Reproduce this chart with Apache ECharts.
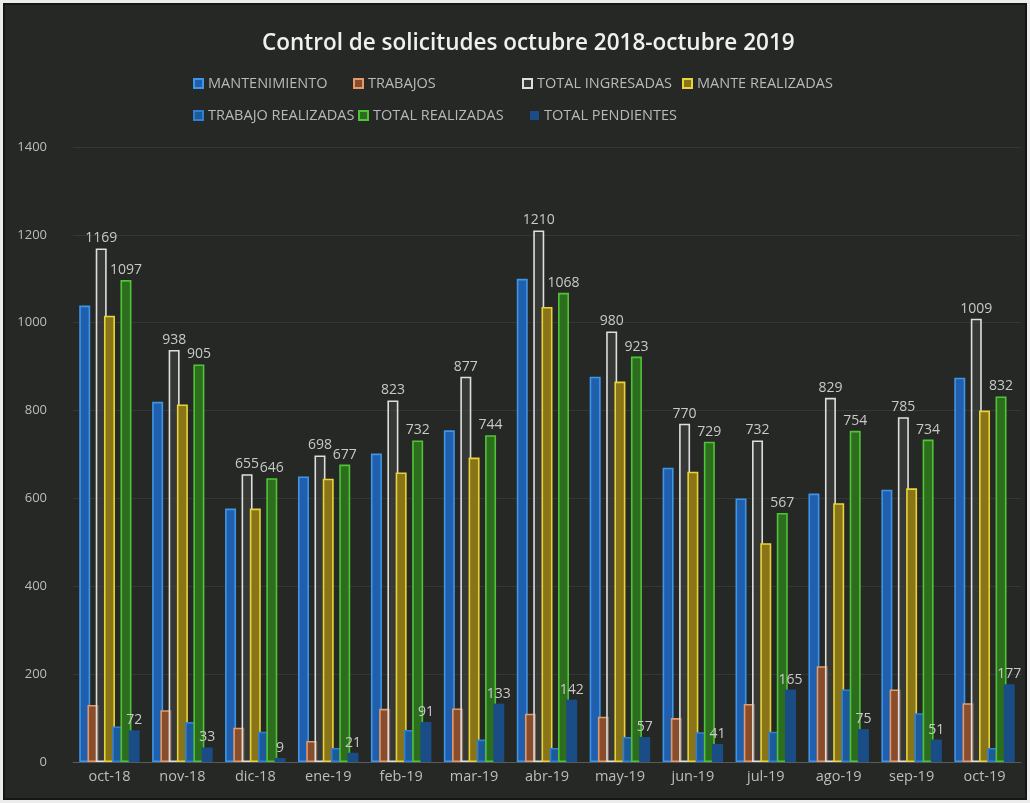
<!DOCTYPE html>
<html>
<head>
<meta charset="utf-8">
<script src="https://cdn.jsdelivr.net/npm/echarts@6/dist/echarts.min.js"></script>
<style>
html,body{margin:0;padding:0;background:#fff;}
#c{width:1030px;height:803px;}
</style>
</head>
<body>
<div id="c"></div>
<script>
const categories = ['oct-18','nov-18','dic-18','ene-19','feb-19','mar-19','abr-19','may-19','jun-19','jul-19','ago-19','sep-19','oct-19'];
const mantenimiento     = [1039, 820, 577, 650, 702, 755, 1100, 877, 670, 600, 611, 620, 875];
const trabajos          = [130, 118, 78, 48, 121, 122, 110, 103, 100, 132, 218, 165, 134];
const totalIngresadas   = [1169, 938, 655, 698, 823, 877, 1210, 980, 770, 732, 829, 785, 1009];
const manteRealizadas   = [1016, 814, 577, 645, 659, 693, 1036, 866, 661, 498, 589, 623, 800];
const trabajoRealizadas = [81, 91, 69, 32, 73, 51, 32, 57, 68, 69, 165, 111, 32];
const totalRealizadas   = [1097, 905, 646, 677, 732, 744, 1068, 923, 729, 567, 754, 734, 832];
const totalPendientes   = [72, 33, 9, 21, 91, 133, 142, 57, 41, 165, 75, 51, 177];
const yTicks = {min: 0, max: 1400, interval: 200};

const FONT = "'Open Sans', 'Liberation Sans', Arial, sans-serif";
const lbl = {show: true, position: 'top', color: '#c9c9c9', fontSize: 14, fontFamily: FONT, distance: 3};

function bar(name, data, fill, border, showLabel) {
  return {
    name: name, type: 'bar', data: data, barWidth: 11, barGap: '-25%',
    itemStyle: {color: fill, borderColor: border, borderWidth: border ? 1.6 : 0},
    label: showLabel ? lbl : {show: false}
  };
}

const series = [
  bar('MANTENIMIENTO', mantenimiento, '#1f5fae', '#3f95e8', false),
  bar('TRABAJOS', trabajos, '#8a4d2c', '#e39a6a', false),
  bar('TOTAL INGRESADAS', totalIngresadas, 'rgba(70,70,70,0.55)', '#dedede', true),
  bar('MANTE REALIZADAS', manteRealizadas, '#8a7418', '#e8d43a', false),
  bar('TRABAJO REALIZADAS', trabajoRealizadas, '#1c5a9c', '#2f80d2', false),
  bar('TOTAL REALIZADAS', totalRealizadas, '#2d6e1e', '#50c437', true),
  bar('TOTAL PENDIENTES', totalPendientes, '#1a4c86', null, true)
];

const legendPos = [
  ['MANTENIMIENTO', 193, 76],
  ['TRABAJOS', 353, 76],
  ['TOTAL INGRESADAS', 522, 76],
  ['MANTE REALIZADAS', 682, 76],
  ['TRABAJO REALIZADAS', 193, 108],
  ['TOTAL REALIZADAS', 358, 108],
  ['TOTAL PENDIENTES', 530, 108]
];
const legends = legendPos.map(p => ({
  data: [p[0]], left: p[1], top: p[2], padding: 0, itemWidth: 9, itemHeight: 9, itemGap: 4,
  icon: 'rect', textStyle: {color: '#b9b9b9', fontSize: 14.5, fontFamily: FONT}, selectedMode: false
}));

const chart = echarts.init(document.getElementById('c'), null, {renderer: 'canvas'});
chart.setOption({
  backgroundColor: '#252824',
  animation: false,
  title: {
    text: 'Control de solicitudes octubre 2018-octubre 2019',
    left: 257, top: 27,
    textStyle: {color: '#f0f0f0', fontSize: 22.5, fontWeight: 600, fontFamily: FONT}
  },
  legend: legends,
  grid: {left: 73, right: 9, top: 147, bottom: 41},
  xAxis: {
    type: 'category', data: categories,
    axisLine: {lineStyle: {color: '#5a5a5a'}},
    axisTick: {show: false},
    axisLabel: {color: '#bdbdbd', fontSize: 14.5, fontFamily: FONT, margin: 7}
  },
  yAxis: {
    type: 'value', min: yTicks.min, max: yTicks.max, interval: yTicks.interval,
    axisLabel: {color: '#bdbdbd', fontSize: 13, fontFamily: FONT, margin: 26, formatter: v => String(v)},
    splitLine: {lineStyle: {color: 'rgba(255,255,255,0.07)'}},
    axisLine: {show: false}, axisTick: {show: false}
  },
  graphic: [
    {type: 'rect', shape: {x: 1.5, y: 1.5, width: 1027, height: 800}, style: {fill: 'none', stroke: '#ececec', lineWidth: 3}, z: 100},
    {type: 'rect', shape: {x: 4, y: 4, width: 1022, height: 795}, style: {fill: 'none', stroke: '#111', lineWidth: 1.5}, z: 100}
  ],
  series: series
});
</script>
</body>
</html>
